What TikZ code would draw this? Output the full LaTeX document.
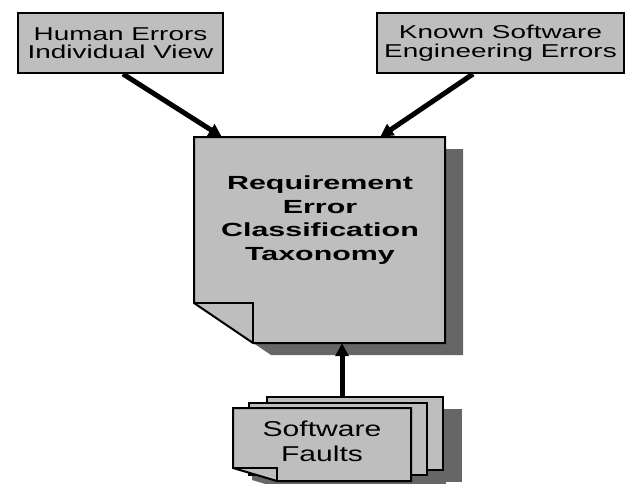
\documentclass[tikz,border=0pt]{standalone}
\usepackage{fontspec}
\setmainfont{Liberation Sans}
\newfontfamily\topfont{Liberation Sans}[FakeStretch=1.5]
\newfontfamily\midfont{Liberation Sans}[FakeStretch=1.6]
\newfontfamily\botfont{Liberation Sans}[FakeStretch=1.4]
\usetikzlibrary{arrows.meta}
\definecolor{pagegray}{RGB}{190,190,190}
\definecolor{shadowgray}{RGB}{102,102,102}
\tikzset{
  pageline/.style={draw=black, line width=2pt, line join=miter},
  pagebox/.style={pageline, fill=pagegray, inner sep=0pt},
  topbox/.style={pagebox, align=center, font=\topfont\fontsize{18.6}{18.5}\selectfont},
  shadowfill/.style={fill=shadowgray},
  arr/.style={line width=5pt, -{Triangle[length=13pt,width=13pt]}},
}
\begin{document}
\begin{tikzpicture}[x=1pt,y=-1pt]
\useasboundingbox (0,0) rectangle (625,483);
\begin{scope}
\clip (0,0) rectangle (625,483);
% top boxes
\node[topbox, minimum width=205pt, minimum height=60pt] (human) at (120.5,43) {Human Errors\\Individual View};
\node[topbox, minimum width=247pt, minimum height=60pt] (known) at (500.5,43) {Known Software\\Engineering Errors};
% main document shadow and page
\fill[shadowfill] (212,149) -- (463,149) -- (463,355) -- (271,355) -- (212,315) -- cycle;
\draw[pageline, fill=pagegray] (194,137) -- (445,137) -- (445,343) -- (253,343) -- (194,303) -- cycle;
\draw[pageline] (194,303) -- (253,303) -- (253,343);
\node[inner sep=0pt, minimum width=251pt, minimum height=206pt] (req) at (319.5,240) {};
\node[align=center, font=\midfont\bfseries\fontsize{19}{23.5}\selectfont] (reqtext) at (320,220) {Requirement\\Error\\Classification\\Taxonomy};
% stack shadows
\fill[shadowfill] (286,409) rectangle (462,482);
\fill[shadowfill] (268,415) rectangle (446,487);
\fill[shadowfill] (252,420) -- (430,420) -- (430,493) -- (296,493) -- (252,480) -- cycle;
% stack pages
\node[pagebox, minimum width=176pt, minimum height=73pt] (back) at (355,433.5) {};
\node[pagebox, minimum width=178pt, minimum height=72pt] (middle) at (338,439) {};
\draw[pageline, fill=pagegray] (233,408) -- (411,408) -- (411,481) -- (277,481) -- (233,468) -- cycle;
\draw[pageline] (233,468) -- (277,468) -- (277,481);
\node[align=center, font=\botfont\fontsize{21.5}{25}\selectfont] (faults) at (322,441) {Software\\Faults};
% arrows
\draw[arr] ([xshift=2.5pt]human.south) -- ([xshift=28pt]req.north west);
\draw[arr] ([xshift=-27.5pt]known.south) -- ([xshift=-65pt]req.north east);
\draw[arr] ([xshift=-13pt]back.north) -- ([xshift=22.5pt]req.south);
\end{scope}
\end{tikzpicture}
\end{document}
